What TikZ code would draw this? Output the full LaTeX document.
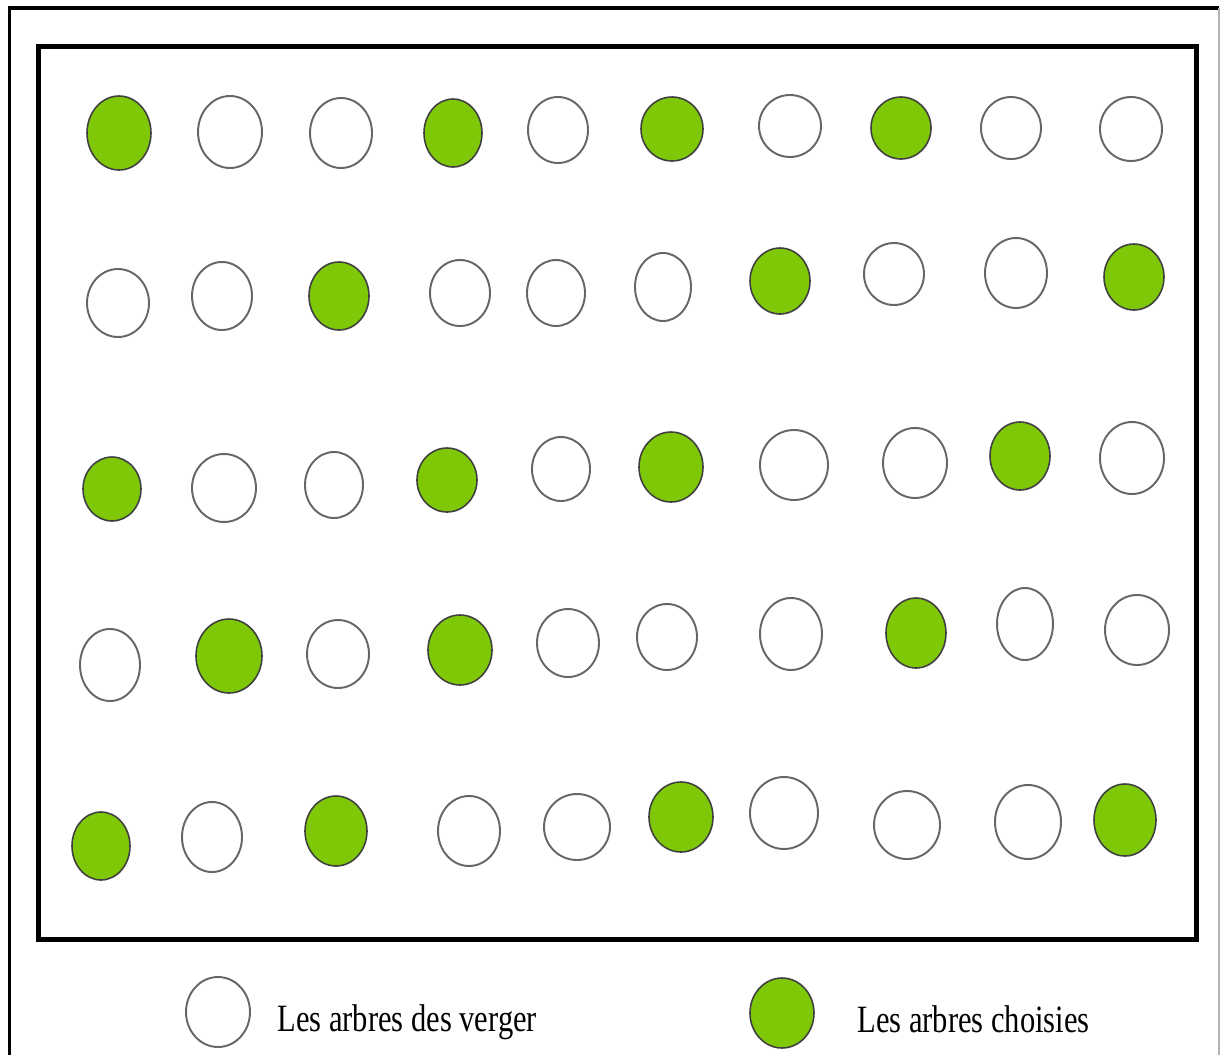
\documentclass[tikz,border=0pt]{standalone}
\usepackage{fontspec}
\setmainfont{Liberation Serif}
\usepackage{graphicx}
\definecolor{leafgreen}{RGB}{126,200,8}
\begin{document}
\begin{tikzpicture}[
  x=0.02cm, y=-0.02cm,
  opentree/.style={draw=black!60, line width=1.1pt, fill=white},
  pickedtree/.style={draw=black!75, line width=0.9pt, fill=leafgreen},
  orchard/.style={line width=2.8pt},
  lbl/.style={anchor=base west, inner sep=0pt, font=\fontsize{22}{26}\selectfont}
]
\useasboundingbox (0,0) rectangle (1221,1055);
\draw[line width=2pt] (9.5,1070) -- (9.5,8) -- (1219,8);
\draw[black!30, line width=0.6pt] (1219,8) -- (1219,1070);
\draw[orchard] (38.5,46.5) rectangle (1196.5,939.5);
\foreach \x/\y/\rx/\ry/\kind in {
  119/133/32/37/pickedtree, 230/132/32/36/opentree, 341/133/31/35/opentree,
  453/133/29/34/pickedtree, 558/130/30/33/opentree, 672/129/31/32/pickedtree,
  790/126/31/31/opentree, 901/128/30/31/pickedtree, 1011/128/30/31/opentree,
  1131/129/31/32/opentree,
  118/303/31/34/opentree, 222/296/30/34/opentree, 339/296/30/34/pickedtree,
  460/293/30/33/opentree, 556/293/29/33/opentree, 663/287/28/34/opentree,
  780/281/30/33/pickedtree, 894/274/30/31/opentree, 1016/273/31/35/opentree,
  1134/277/30/33/pickedtree,
  112/489/29/32/pickedtree, 224/488/32/34/opentree, 334/485/29/33/opentree,
  447/480/30/32/pickedtree, 561/469/29/32/opentree, 671/467/32/35/pickedtree,
  794/465/34/35/opentree, 915/463/32/35/opentree, 1020/456/30/34/pickedtree,
  1132/458/32/36/opentree,
  110/665/30/36/opentree, 229/656/33/37/pickedtree, 338/654/31/34/opentree,
  460/650/32/35/pickedtree, 568/643/31/34/opentree, 667/637/30/33/opentree,
  791/634/31/36/opentree, 916/633/30/35/pickedtree, 1025/624/28/36/opentree,
  1137/630/32/35/opentree,
  101/846/29/34/pickedtree, 212/837/30/35/opentree, 336/831/31/35/pickedtree,
  469/831/31/35/opentree, 577/827/33/33/opentree, 681/817/32/35/pickedtree,
  784/813/34/36/opentree, 907/825/33/34/opentree, 1028/822/33/37/opentree,
  1125/820/31/36/pickedtree}
  \draw[\kind] (\x,\y) ellipse [x radius=\rx, y radius=\ry];
\draw[opentree] (218,1012) ellipse [x radius=32, y radius=35];
\draw[pickedtree] (782,1013) ellipse [x radius=32, y radius=35];
\node[lbl] (legopen) at (277,1031) {\scalebox{0.79}[1]{Les arbres des verger}};
\node[lbl] (legpicked) at (857,1032) {\scalebox{0.79}[1]{Les arbres choisies}};
\end{tikzpicture}
\end{document}
